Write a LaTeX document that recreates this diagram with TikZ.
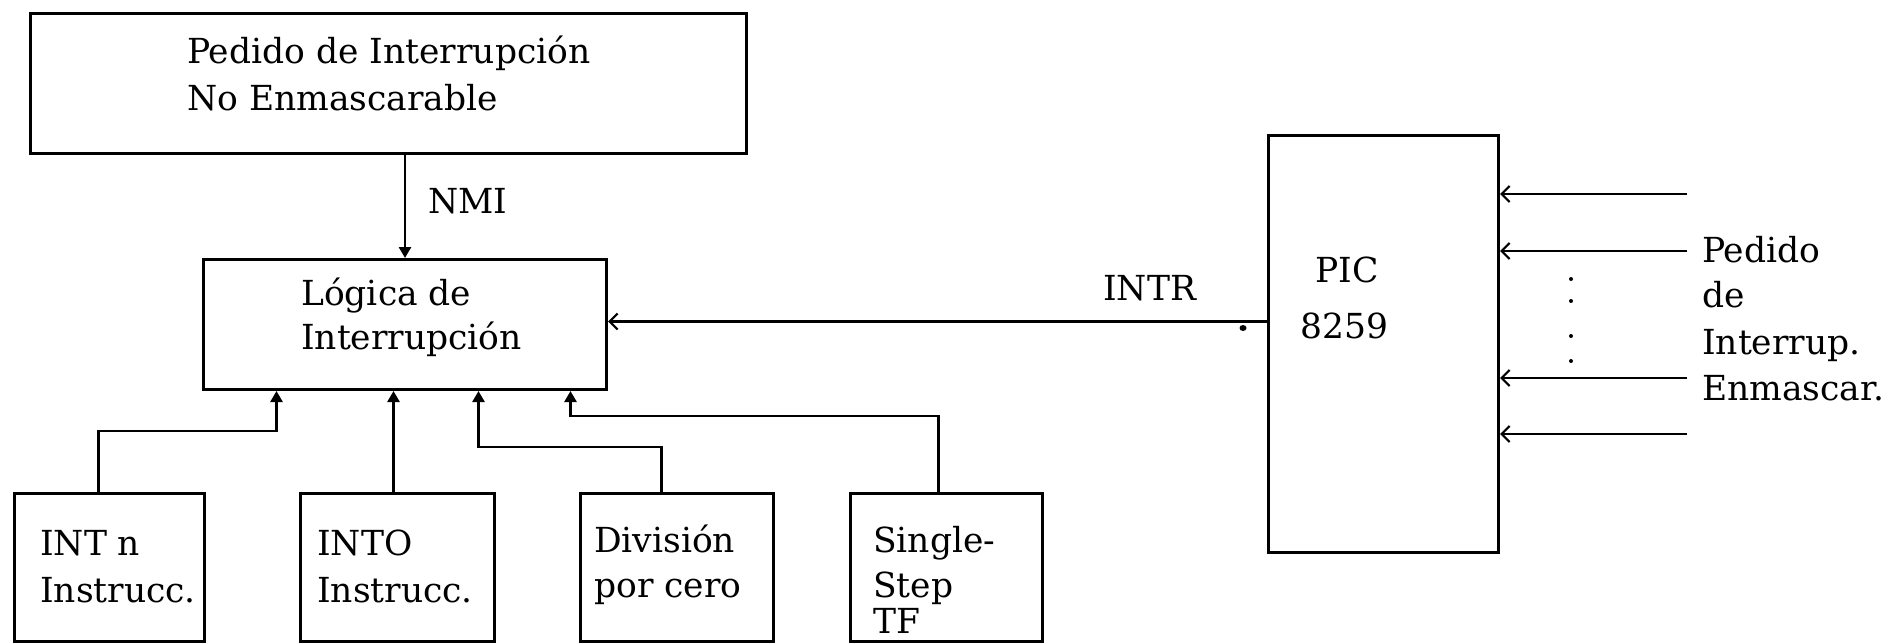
\documentclass[tikz,border=0pt]{standalone}
\usepackage{fontspec}
\setmainfont{DejaVu Serif}
\usetikzlibrary{arrows.meta}
\begin{document}
\begin{tikzpicture}[x=1pt,y=-1pt,
  boxnode/.style={draw, line width=3pt, inner sep=0pt, anchor=north west},
  lbl/.style={inner sep=0pt, anchor=base west, font=\fontsize{34.5}{40}\selectfont},
  farrow/.style={line width=2.6pt, -{Triangle[length=11pt,width=12pt]}},
  oarrow/.style={line width=2.6pt, -{Straight Barb[length=8pt,width=16pt,line width=2.2pt]}},
  wire/.style={line width=2.6pt}]
\fill[white] (0,0) rectangle (1896,643);
\useasboundingbox (0,0) rectangle (1896,643);

% boxes
\node[boxnode, minimum width=716pt, minimum height=140pt] (top) at (29,12) {};
\node[boxnode, minimum width=403pt, minimum height=130pt] (lg) at (202,258) {};
\node[boxnode, minimum width=190pt, minimum height=148pt] (b1) at (13,492) {};
\node[boxnode, minimum width=194pt, minimum height=148pt] (b2) at (299,492) {};
\node[boxnode, minimum width=193pt, minimum height=148pt] (b3) at (579,492) {};
\node[boxnode, minimum width=192pt, minimum height=148pt] (b4) at (849,492) {};
\node[boxnode, minimum width=230pt, minimum height=417pt] (pic) at (1267,134) {};

% texts
\node[lbl] (t1) at (187,63) {Pedido de Interrupción};
\node[lbl] (t2) at (187,110) {No Enmascarable};
\node[lbl] (nmi) at (428,213) {NMI};
\node[lbl] (l1) at (301,305) {Lógica de};
\node[lbl] (l2) at (301,349) {Interrupción};
\node[lbl] (intr) at (1103,300) {INTR};
\node[lbl] (p1) at (1315,282) {PIC};
\node[lbl] (p2) at (1300,338) {8259};
\node[lbl] (a1) at (40,555) {INT n};
\node[lbl] (a2) at (40,602) {Instrucc.};
\node[lbl] (c1) at (317,555) {INTO};
\node[lbl] (c2) at (317,602) {Instrucc.};
\node[lbl] (d1) at (594,552) {División};
\node[lbl] (d2) at (594,597) {por cero};
\node[lbl] (s1) at (873,552) {Single-};
\node[lbl] (s2) at (873,597) {Step};
\node[lbl] (s3) at (873,633) {TF};
\node[lbl] (r1) at (1702,262) {Pedido};
\node[lbl] (r2) at (1702,307) {de};
\node[lbl] (r3) at (1702,354) {Interrup.};
\node[lbl] (r4) at (1702,400) {Enmascar.};

% NMI
\draw[farrow] (lg.north |- top.south) -- (lg.north);

% bottom inputs
\draw[farrow] ([xshift=-11pt]b1.north) -- ++(0,-61) -| ([xshift=-128.5pt]lg.south);
\draw[farrow] ([xshift=-4pt]b2.north) -- ([xshift=-4pt]b2.north |- lg.south);
\draw[farrow] ([xshift=-15.5pt]b3.north) -- ++(0,-45) -| ([xshift=73.5pt]lg.south);
\draw[farrow] ([xshift=-8pt]b4.north) -- ++(0,-76) -| ([xshift=165.5pt]lg.south);

% INTR
\coordinate (intrA) at ([yshift=22.5pt]pic.west);
\draw[oarrow] (intrA) -- (intrA -| lg.east);
\fill (1243,328) ellipse (3.5pt and 3pt);

% right inputs
\coordinate (in1) at (1687,194);
\coordinate (in2) at (1687,251);
\coordinate (in3) at (1687,378);
\coordinate (in4) at (1687,434);
\draw[oarrow] (in1) -- (in1 -| pic.east);
\draw[oarrow] (in2) -- (in2 -| pic.east);
\draw[oarrow] (in3) -- (in3 -| pic.east);
\draw[oarrow] (in4) -- (in4 -| pic.east);
\foreach \yy in {279,301,336,361} \fill (1571,\yy) circle (2pt);
\end{tikzpicture}
\end{document}
